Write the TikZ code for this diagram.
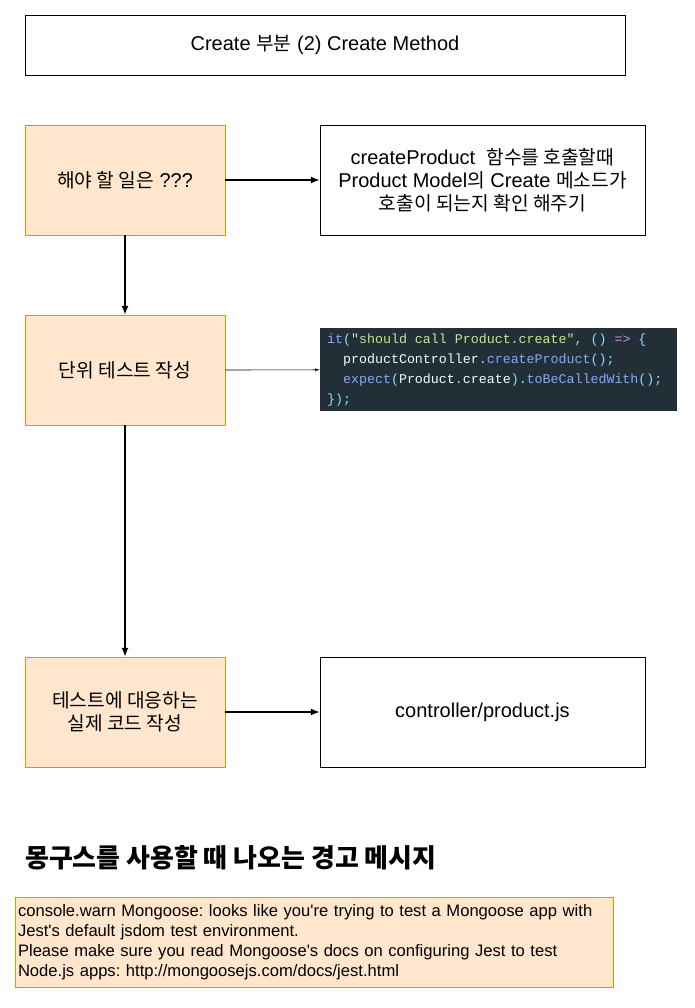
\documentclass[tikz,border=0pt]{standalone}
\usepackage{fontspec}
\usetikzlibrary{arrows.meta}
\setmainfont{Liberation Sans}[Ligatures=TeXOff]
\newfontfamily\kr{Noto Sans CJK KR}[Scale=0.96]
\newfontfamily\code{Liberation Mono}
\definecolor{taskfill}{HTML}{FFE6CC}
\definecolor{taskline}{HTML}{D79B00}
\definecolor{codebg}{HTML}{232F36}
\definecolor{cwhite}{HTML}{EEFFFF}
\definecolor{cblue}{HTML}{82AAFF}
\definecolor{ccyan}{HTML}{89DDFF}
\definecolor{cgreen}{HTML}{C3E88D}
\definecolor{cpurple}{HTML}{C792EA}
\frenchspacing
\begin{document}
\begin{tikzpicture}[x=1pt,y=-1pt,>=latex,
  task/.style={draw=taskline,fill=taskfill,minimum width=200pt,minimum height=110pt,align=center,font=\fontsize{20}{23}\selectfont},
  plain/.style={draw,minimum width=325pt,minimum height=110pt,align=center,font=\fontsize{20}{23}\selectfont},
  codebox/.style={fill=codebg,text=cwhite,anchor=north west,minimum width=357pt,minimum height=83pt,text width=343pt,inner xsep=7pt,inner ysep=5pt,align=left,
    font=\code\fontsize{13.3}{20}\selectfont},
  arr/.style={-{Latex[length=9pt,width=7pt]},line width=1.5pt},
  thinarr/.style={-{Latex[length=5pt,width=3pt]},line width=0.7pt}]
\useasboundingbox (0,0) rectangle (694,1008);

\node[draw,minimum width=600pt,minimum height=60pt,font=\fontsize{20}{23}\selectfont] (title) at (325,45) {Create {\kr 부분} (2) Create Method};

\node[task] (todo) at (125,180) {{\kr 해야 할 일은} ???};
\node[plain] (goal) at (482.5,180) {createProduct\ \ {\kr 함수를 호출할때}\\Product Model{\kr 의} Create {\kr 메소드가}\\{\kr 호출이 되는지 확인 해주기}};

\node[task] (unit) at (125,370) {{\kr 단위 테스트 작성}};
\node[codebox] (code) at (320,328) {\spaceskip=0.6em\relax
\textcolor{cblue}{it}\textcolor{ccyan}{(}\textcolor{cgreen}{"should call Product.create"}\textcolor{ccyan}{, () }\textcolor{cpurple}{=>} \textcolor{ccyan}{\{}\\
\hspace*{1.2em}productController\textcolor{ccyan}{.}\textcolor{cblue}{createProduct}\textcolor{ccyan}{();}\\
\hspace*{1.2em}\textcolor{cblue}{expect}\textcolor{ccyan}{(}Product\textcolor{ccyan}{.}create\textcolor{ccyan}{).}\textcolor{cblue}{toBeCalledWith}\textcolor{ccyan}{();}\\
\textcolor{ccyan}{\});}};

\node[task] (impl) at (125,712) {{\kr 테스트에 대응하는}\\{\kr 실제 코드 작성}};
\node[plain] (file) at (482.5,712) {controller/product.js};

\node[anchor=west,inner sep=0pt,font=\kr\bfseries\fontsize{27}{30}\selectfont] (warnhead) at (25,858) {몽구스를 사용할 때 나오는 경고 메시지};
\node[draw=taskline,fill=taskfill,minimum width=598pt,minimum height=90pt,text width=592pt,inner xsep=3pt,align=left,font=\fontsize{16.6}{20}\selectfont] (warn) at (314,942) {console.warn Mongoose: looks like you're trying to test a Mongoose app with\\Jest's default jsdom test environment.\\Please make sure you read Mongoose's docs on configuring Jest to test\\Node.js apps: http://mongoosejs.com/docs/jest.html};

\draw[arr] (todo) -- (goal);
\draw[arr] (todo) -- (unit);
\draw[thinarr] (unit) -- (code);
\draw[arr] (unit) -- (impl);
\draw[arr] (impl) -- (file);
\end{tikzpicture}
\end{document}
